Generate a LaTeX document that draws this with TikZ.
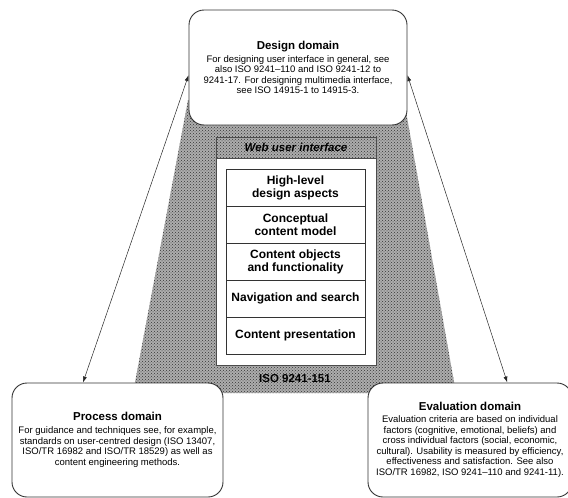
\documentclass[tikz,border=0pt]{standalone}
\usepackage{fontspec}
\setmainfont{Liberation Sans}
\usetikzlibrary{arrows.meta,positioning,patterns}
\def\shadearea{(188,100) -- (404,100) -- (456,393) -- (133,393) -- cycle}
\def\domtitle#1{{\fontsize{11.5}{13}\selectfont\bfseries #1}}

\begin{document}
\begin{tikzpicture}[x=1pt, y=-1pt,
    domainbox/.style={draw=black!80, line width=0.9pt, fill=white, rounded corners=15pt, align=center, inner sep=0pt,
      font={\fontsize{9.5}{10.5}\selectfont}},
    layer/.style={draw=black!80, line width=0.6pt, fill=white, minimum width=139pt, minimum height=37pt,
      inner sep=0pt, outer sep=0pt, align=center, font={\fontsize{12}{13}\selectfont\bfseries}},
    link/.style={{Latex[length=6pt,width=4pt]}-{Latex[length=6pt,width=4pt]}, draw=black!85, line width=0.5pt}]
      \useasboundingbox (0,0) rectangle (568,498);

      % Shaded area
      \fill[black!32] \shadearea;
      \path[pattern=crosshatch dots, pattern color=black!80] \shadearea;

      % Web user interface
      \node[draw=black!70, line width=0.6pt, minimum width=160pt, minimum height=228pt, inner sep=0pt] (webui) at (296,251) {};
      \node[font={\fontsize{11.5}{13}\selectfont\bfseries\itshape}] (webtitle) at (296,147.5) {Web user interface};
      \node[draw=black!70, line width=0.6pt, fill=white, minimum width=160pt, minimum height=207pt, inner sep=0pt, anchor=south] (webbody) at (webui.south) {};

      % Layers
      \node[layer] (highlevel) at (295.5,187.5) {High-level\\design aspects};
      \node[layer, below=0pt of highlevel] (concept) {Conceptual\\content model};
      \node[layer, below=0pt of concept] (objects) {Content objects\\and functionality};
      \node[layer, below=0pt of objects] (navigation) {Navigation and search};
      \node[layer, below=0pt of navigation] (presentation) {Content presentation};

      % ISO label
      \node[font={\fontsize{11.5}{13}\selectfont\bfseries}] (standard) at (295,379) {ISO 9241-151};

      % Design
      \node[domainbox, minimum width=218pt, minimum height=115pt] (design) at (298,67.5) {\domtitle{Design domain}\\[2.5pt]
        For designing user interface in general, see\\ also ISO 9241--110 and ISO 9241-12 to\\
        9241-17. For designing multimedia interface,\\ see ISO 14915-1 to 14915-3.};

      % Process
      \node[domainbox, minimum width=211pt, minimum height=114pt] (process) at (117.5,440) {\domtitle{Process domain}\\[2.5pt]
        For guidance and techniques see, for example,\\ standards on user-centred design (ISO 13407,\\
        ISO/TR 16982 and ISO/TR 18529) as well as\\ content engineering methods.};

      % Evaluation
      \node[domainbox, minimum width=204pt, minimum height=114pt] (eval) at (470,440) {\domtitle{Evaluation domain}\\[1.5pt]
        Evaluation criteria are based on individual\\ factors (cognitive, emotional, beliefs) and\\
        cross individual factors (social, economic,\\ cultural). Usability is measured by efficiency,\\
        effectiveness and satisfaction. See also\\ ISO/TR 16982, ISO 9241--110 and 9241-11).};

      % Links
      \draw[link] (design.184) -- (process.121);
      \draw[link] (design.356) -- (eval.57);

    \end{tikzpicture}
\end{document}
